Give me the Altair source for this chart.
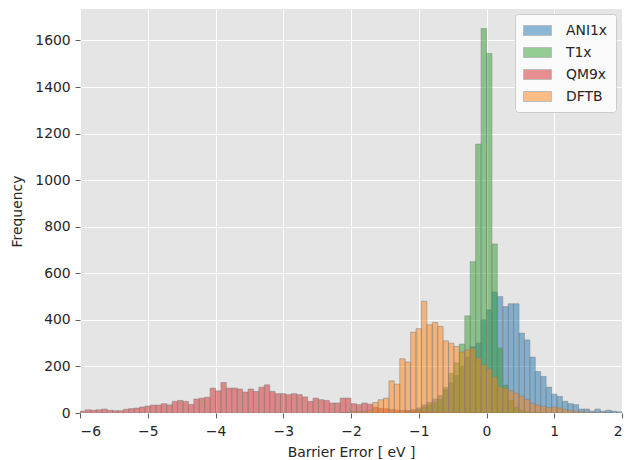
import altair as alt
import pandas as pd

# Histogram bins: 0.08 eV wide, counted from -6 eV
X_MIN = -6.0
BIN_WIDTH = 0.08

SERIES = ["ANI1x", "T1x", "QM9x", "DFTB"]
COLORS = ["#1f77b4", "#2ca02c", "#d62728", "#ff7f0e"]

# first_bin = index of the first listed bin (bin k starts at -6 + 0.08*k)
ani1x_first = 60
ani1x_counts = [10, 15, 22, 35, 45, 60, 75, 100, 130, 160, 200, 240, 285, 300,
                400, 443, 519, 500, 457, 469, 469, 343, 314, 240, 178, 157, 111,
                81, 71, 50, 40, 36, 17, 17, 8, 17, 8, 12, 8, 5]

t1x_first = 62
t1x_counts = [15, 25, 35, 45, 60, 110, 170, 215, 296, 417, 650, 1155, 1651,
              1544, 726, 280, 120, 55, 25, 12, 6, 3, 2]

qm9x_first = 0
qm9x_counts = [8, 14, 12, 14, 17, 12, 10, 10, 16, 19, 21, 26, 30, 34, 34, 40,
               35, 50, 54, 50, 37, 60, 64, 68, 107, 95, 131, 107, 107, 103, 90,
               103, 93, 111, 121, 93, 83, 83, 79, 83, 79, 69, 50, 64, 57, 54,
               43, 43, 64, 64, 40, 36, 43, 38, 25, 20, 18, 15, 13, 12, 10, 8,
               7, 6, 5, 4, 3, 3, 2, 2, 1, 1, 1]

dftb_first = 48
dftb_counts = [2, 3, 5, 6, 8, 12, 45, 57, 64, 138, 124, 233, 219, 347, 362, 480,
               379, 389, 372, 310, 300, 286, 262, 271, 278, 236, 207, 189, 154,
               114, 106, 95, 85, 72, 58, 42, 34, 28, 24, 26, 22, 16, 12, 8, 6,
               4, 3, 2, 2, 1]

rows = []
for name, first, counts in [
    ("ANI1x", ani1x_first, ani1x_counts),
    ("T1x", t1x_first, t1x_counts),
    ("QM9x", qm9x_first, qm9x_counts),
    ("DFTB", dftb_first, dftb_counts),
]:
    for i, c in enumerate(counts):
        start = X_MIN + (first + i) * BIN_WIDTH
        rows.append({"dataset": name, "start": start,
                     "end": start + BIN_WIDTH, "count": c})
df = pd.DataFrame(rows)

FONT = "DejaVu Sans"
TEXT = "#262626"

axis_style = dict(
    grid=True, gridColor="white", gridWidth=1, domain=False,
    tickColor="#333333", tickSize=4.9, tickWidth=0.8,
    labelFont=FONT, labelFontSize=13.9, labelColor=TEXT,
    titleFont=FONT, titleFontSize=13.9, titleColor=TEXT,
    titleFontWeight="normal",
)

bars = alt.Chart(df).mark_rect(
    fillOpacity=0.5, stroke="#808080", strokeOpacity=0.5, strokeWidth=1,
    clip=True,
).encode(
    x=alt.X("start:Q",
            scale=alt.Scale(domain=[-6, 2], nice=False, zero=False),
            axis=alt.Axis(values=list(range(-6, 3)), format="d",
                          title="Barrier Error [ eV ]", titlePadding=7,
                          labelPadding=6.5, **axis_style)),
    x2="end:Q",
    y=alt.Y("count:Q", stack=None,
            scale=alt.Scale(domain=[0, 1735], nice=False),
            axis=alt.Axis(values=list(range(0, 1601, 200)), format="d",
                          title="Frequency", titlePadding=10,
                          labelPadding=4.9, **axis_style)),
    y2=alt.datum(0),
    color=alt.Color(
        "dataset:N",
        scale=alt.Scale(domain=SERIES, range=COLORS),
        legend=alt.Legend(
            title=None, orient="none", legendX=435, legendY=5,
            symbolType="M-1,-0.625H2.5V0.625H-1Z", symbolSize=256,
            symbolStrokeColor="#808080", symbolStrokeWidth=1,
            symbolOpacity=0.5,
            labelFont=FONT, labelFontSize=13.9, labelColor=TEXT,
            labelOffset=26, rowPadding=6, padding=8,
            fillColor="#FAFAFA", strokeColor="#CCCCCC", cornerRadius=3,
        ),
    ),
)

chart = bars.properties(
    width=542, height=404,
    autosize=alt.AutoSizeParams(type="none"),
    padding={"left": 80, "top": 9, "right": 5, "bottom": 47},
    background="white",
).configure_view(fill="#E5E5E5", strokeWidth=0)

chart.save("out.html", embed_options={"renderer": "svg", "actions": False})
